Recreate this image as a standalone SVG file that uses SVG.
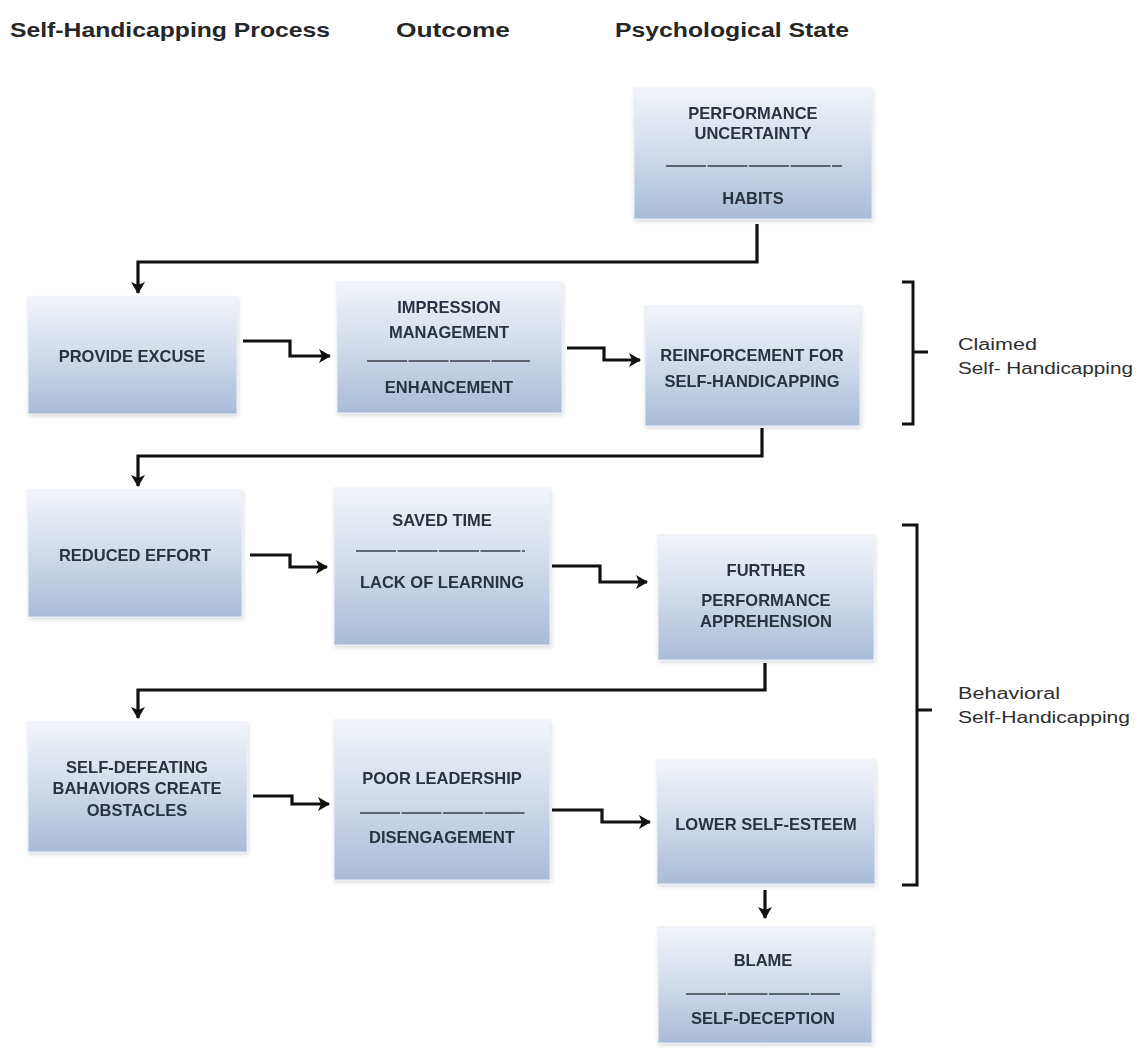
<svg xmlns="http://www.w3.org/2000/svg" width="1140" height="1050" viewBox="0 0 1140 1050">
<style>
.hdr{font-family:"Liberation Sans",Arial,sans-serif;font-weight:bold;font-size:20px;fill:#262626}
.bx{fill:url(#g);stroke:#e8edf5;stroke-width:1}
.t{font-family:"Liberation Sans",Arial,sans-serif;font-weight:bold;font-size:16.5px;fill:#2a3342;text-anchor:middle}
.dv{stroke:#3a404c;stroke-width:1.3;stroke-dasharray:40 1.5}
.c{fill:none;stroke:#111;stroke-width:3.2;marker-end:url(#ah)}
.br{fill:none;stroke:#111;stroke-width:3}
.lb{font-family:"Liberation Sans",Arial,sans-serif;font-size:16px;fill:#2e2e2e}
</style>
<defs>
<linearGradient id="g" x1="0" y1="0" x2="0" y2="1">
<stop offset="0" stop-color="#f2f5fa"/>
<stop offset="0.45" stop-color="#d4ddec"/>
<stop offset="1" stop-color="#a9bbd8"/>
</linearGradient>
<filter id="sh" x="-10%" y="-10%" width="120%" height="120%">
<feGaussianBlur in="SourceAlpha" stdDeviation="2"/>
<feOffset dx="1" dy="2"/>
<feComponentTransfer><feFuncA type="linear" slope="0.15"/></feComponentTransfer>
<feMerge><feMergeNode/><feMergeNode in="SourceGraphic"/></feMerge>
</filter>
<marker id="ah" markerUnits="userSpaceOnUse" markerWidth="16" markerHeight="16" refX="12" refY="8" orient="auto">
<path d="M1,1 L13,8 L1,15 L4,8 z" fill="#111"/>
</marker>
</defs>
<rect width="1140" height="1050" fill="#fff"/>

<g id="headers">
<text class="hdr" x="10" y="37" textLength="320" lengthAdjust="spacingAndGlyphs">Self-Handicapping Process</text>
<text class="hdr" x="396" y="37" textLength="114" lengthAdjust="spacingAndGlyphs">Outcome</text>
<text class="hdr" x="615" y="37" textLength="234" lengthAdjust="spacingAndGlyphs">Psychological State</text>
</g>

<g id="n1" filter="url(#sh)">
<rect class="bx" x="634" y="88" width="238" height="131"/>
<text class="t" x="753" y="119">PERFORMANCE</text>
<text class="t" x="753" y="139">UNCERTAINTY</text>
<line class="dv" x1="666" y1="166" x2="842" y2="166"/>
<text class="t" x="753" y="204">HABITS</text>
</g>

<g id="n2" filter="url(#sh)">
<rect class="bx" x="28" y="297" width="209" height="117"/>
<text class="t" x="132" y="362">PROVIDE EXCUSE</text>
</g>

<g id="n3" filter="url(#sh)">
<rect class="bx" x="337" y="282" width="225" height="131"/>
<text class="t" x="449" y="313">IMPRESSION</text>
<text class="t" x="449" y="338">MANAGEMENT</text>
<line class="dv" x1="367" y1="361" x2="530" y2="361"/>
<text class="t" x="449" y="393">ENHANCEMENT</text>
</g>

<g id="n4" filter="url(#sh)">
<rect class="bx" x="645" y="306" width="215" height="120"/>
<text class="t" x="752" y="361">REINFORCEMENT FOR</text>
<text class="t" x="752" y="387">SELF-HANDICAPPING</text>
</g>

<g id="n5" filter="url(#sh)">
<rect class="bx" x="28" y="490" width="214" height="127"/>
<text class="t" x="135" y="561">REDUCED EFFORT</text>
</g>

<g id="n6" filter="url(#sh)">
<rect class="bx" x="334" y="488" width="216" height="157"/>
<text class="t" x="442" y="526">SAVED TIME</text>
<line class="dv" x1="356" y1="551" x2="525" y2="551"/>
<text class="t" x="442" y="588">LACK OF LEARNING</text>
</g>

<g id="n7" filter="url(#sh)">
<rect class="bx" x="658" y="535" width="216" height="125"/>
<text class="t" x="766" y="576">FURTHER</text>
<text class="t" x="766" y="606">PERFORMANCE</text>
<text class="t" x="766" y="627">APPREHENSION</text>
</g>

<g id="n8" filter="url(#sh)">
<rect class="bx" x="28" y="722" width="219" height="130"/>
<text class="t" x="137" y="773">SELF-DEFEATING</text>
<text class="t" x="137" y="794">BAHAVIORS CREATE</text>
<text class="t" x="137" y="816">OBSTACLES</text>
</g>

<g id="n9" filter="url(#sh)">
<rect class="bx" x="334" y="720" width="216" height="160"/>
<text class="t" x="442" y="784">POOR LEADERSHIP</text>
<line class="dv" x1="360" y1="813" x2="525" y2="813"/>
<text class="t" x="442" y="843">DISENGAGEMENT</text>
</g>

<g id="n10" filter="url(#sh)">
<rect class="bx" x="657" y="760" width="218" height="124"/>
<text class="t" x="766" y="830">LOWER SELF-ESTEEM</text>
</g>

<g id="n11" filter="url(#sh)">
<rect class="bx" x="658" y="927" width="214" height="116"/>
<text class="t" x="763" y="966">BLAME</text>
<line class="dv" x1="686" y1="994" x2="840" y2="994"/>
<text class="t" x="763" y="1024">SELF-DECEPTION</text>
</g>

<g id="connectors">
<path class="c" d="M757,224 V262 H138 V293"/>
<path class="c" d="M762,428 V456 H138 V486"/>
<path class="c" d="M765,663 V690 H138 V718"/>
<path class="c" d="M765,890 V918"/>
<path class="c" d="M243,341 H290 V356 H330"/>
<path class="c" d="M567,348 H604 V360 H640"/>
<path class="c" d="M250,555 H290 V567 H327"/>
<path class="c" d="M552,566 H600 V582 H647"/>
<path class="c" d="M253,796 H292 V804 H329"/>
<path class="c" d="M552,810 H602 V822 H650"/>
</g>

<g id="braces">
<path class="br" d="M902,282 H913 V424 H902 M913,352 H928"/>
<path class="br" d="M902,525 H917 V885 H902 M917,710 H932"/>
<text class="lb" x="958" y="350" textLength="79" lengthAdjust="spacingAndGlyphs">Claimed</text>
<text class="lb" x="958" y="374" textLength="175" lengthAdjust="spacingAndGlyphs">Self- Handicapping</text>
<text class="lb" x="958" y="699" textLength="102" lengthAdjust="spacingAndGlyphs">Behavioral</text>
<text class="lb" x="958" y="723" textLength="172" lengthAdjust="spacingAndGlyphs">Self-Handicapping</text>
</g>
</svg>
